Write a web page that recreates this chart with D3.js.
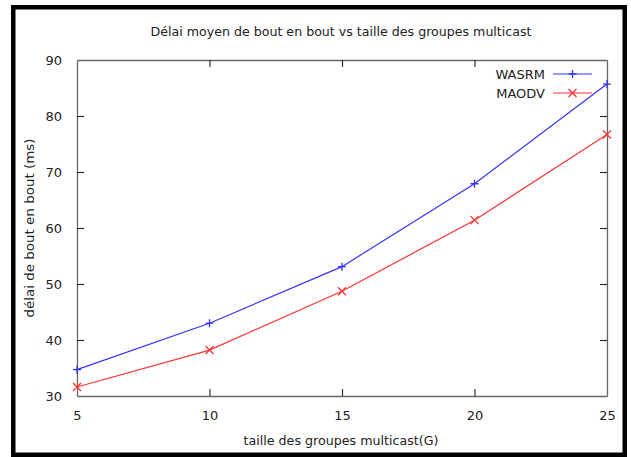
<!DOCTYPE html>
<html><head><meta charset="utf-8">
<script src="https://cdn.jsdelivr.net/npm/d3@7"></script>
<style>
html,body{margin:0;padding:0;background:#fff;}
svg{display:block;font-family:"DejaVu Sans",sans-serif;}
</style></head>
<body><svg id="c" width="631" height="457"></svg>
<script>
const groupSizes = [5, 10, 15, 20, 25];
const wasrm = [34.7, 43.0, 53.1, 67.9, 85.7];
const maodv = [31.6, 38.2, 48.7, 61.4, 76.7];
const xTicks = [5, 10, 15, 20, 25];
const yTicks = [30, 40, 50, 60, 70, 80, 90];
const seriesNames = ["WASRM", "MAODV"];

const svg = d3.select("#c");
const L = 77, R = 607, T = 60, B = 396;
const x = d3.scaleLinear().domain([5, 25]).range([L, R]);
const y = d3.scaleLinear().domain([30, 90]).range([B, T]);

// outer frame
svg.append("rect").attr("x", 13.25).attr("y", 7.25).attr("width", 611.5).attr("height", 447.5)
  .attr("fill", "none").attr("stroke", "#000").attr("stroke-width", 4.5);

// title
svg.append("text").attr("x", 341).attr("y", 36).attr("text-anchor", "middle")
  .attr("font-size", 13).attr("fill", "#222")
  .attr("textLength", 381).attr("lengthAdjust", "spacingAndGlyphs")
  .text("Délai moyen de bout en bout vs taille des groupes multicast");

// axes with inward ticks
const tickLen = 7;
const gB = svg.append("g").attr("transform", `translate(0,${B})`)
  .call(d3.axisBottom(x).tickValues(xTicks).tickSizeInner(-tickLen).tickSizeOuter(0).tickPadding(15));
const gT = svg.append("g").attr("transform", `translate(0,${T})`)
  .call(d3.axisTop(x).tickValues(xTicks).tickSizeInner(-tickLen).tickSizeOuter(0).tickFormat(""));
const gL = svg.append("g").attr("transform", `translate(${L},0)`)
  .call(d3.axisLeft(y).tickValues(yTicks).tickSizeInner(-tickLen).tickSizeOuter(0).tickPadding(15));
const gR = svg.append("g").attr("transform", `translate(${R},0)`)
  .call(d3.axisRight(y).tickValues(yTicks).tickSizeInner(-tickLen).tickSizeOuter(0).tickFormat(""));
[gB, gT, gL, gR].forEach(g => {
  g.select(".domain").attr("stroke", "#666").attr("stroke-width", 1.3);
  g.selectAll(".tick line").attr("stroke", "#222").attr("stroke-width", 1.1);
  g.selectAll(".tick text").attr("font-size", 13).attr("fill", "#222")
    .attr("font-family", "DejaVu Sans, sans-serif");
});
// hide end ticks that overlap the frame corners
gB.selectAll(".tick").filter(d => d === 5 || d === 25).select("line").remove();
gT.selectAll(".tick").filter(d => d === 5 || d === 25).select("line").remove();
gL.selectAll(".tick").filter(d => d === 30 || d === 90).select("line").remove();
gR.selectAll(".tick").filter(d => d === 30 || d === 90).select("line").remove();
gB.selectAll(".tick text").attr("dy", "0.71em");

// axis labels
svg.append("text").attr("x", 341).attr("y", 445).attr("text-anchor", "middle")
  .attr("font-size", 13).attr("fill", "#222")
  .attr("textLength", 195).attr("lengthAdjust", "spacingAndGlyphs")
  .text("taille des groupes multicast(G)");
svg.append("text").attr("transform", "translate(34,228) rotate(-90)").attr("text-anchor", "middle")
  .attr("font-size", 13).attr("fill", "#222")
  .attr("textLength", 179).attr("lengthAdjust", "spacingAndGlyphs")
  .text("délai de bout en bout (ms)");

// series
const series = [
  {name: seriesNames[0], vals: wasrm, color: "#3333ff", marker: "plus"},
  {name: seriesNames[1], vals: maodv, color: "#ff3333", marker: "cross"}
];
const line = d3.line().x(d => x(d[0])).y(d => y(d[1]));
function marker(g, cx, cy, type, color) {
  const s = 4;
  if (type === "plus") {
    g.append("path").attr("d", `M${cx - s},${cy}H${cx + s}M${cx},${cy - s}V${cy + s}`)
      .attr("stroke", color).attr("stroke-width", 1.3).attr("fill", "none");
  } else {
    g.append("path").attr("d", `M${cx - s},${cy - s}L${cx + s},${cy + s}M${cx - s},${cy + s}L${cx + s},${cy - s}`)
      .attr("stroke", color).attr("stroke-width", 1.3).attr("fill", "none");
  }
}
series.forEach((s, i) => {
  const pts = groupSizes.map((g, j) => [g, s.vals[j]]);
  const g = svg.append("g");
  g.append("path").attr("d", line(pts)).attr("fill", "none")
    .attr("stroke", s.color).attr("stroke-width", 1.2);
  pts.forEach(p => marker(g, x(p[0]), y(p[1]), s.marker, s.color));
  // legend
  const ly = 74 + i * 19;
  svg.append("text").attr("x", 545).attr("y", ly).attr("dy", "0.36em")
    .attr("text-anchor", "end").attr("font-size", 13).attr("fill", "#222")
    .text(s.name);
  svg.append("line").attr("x1", 553).attr("x2", 592).attr("y1", ly).attr("y2", ly)
    .attr("stroke", s.color).attr("stroke-width", 1.2);
  marker(svg, 572.5, ly, s.marker, s.color);
});
</script></body></html>
